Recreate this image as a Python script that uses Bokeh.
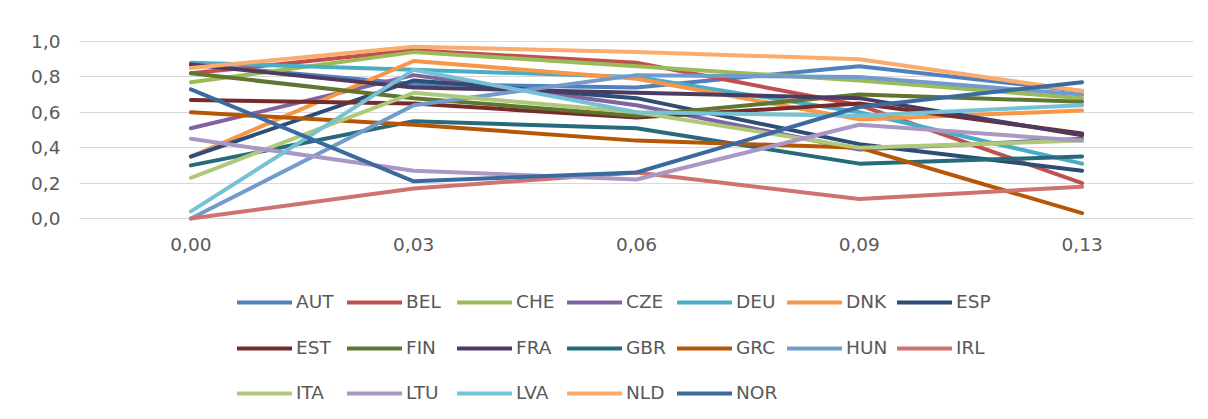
from bokeh.plotting import figure
from bokeh.models import (FactorRange, Range1d, Legend, LegendItem, FixedTicker,
                          CustomJSTickFormatter)
from bokeh.embed import file_html
from bokeh.resources import INLINE

cats = ["0,00", "0,03", "0,06", "0,09", "0,13"]
y_ticks = [0.0, 0.2, 0.4, 0.6, 0.8, 1.0]

countries = ["AUT", "BEL", "CHE", "CZE", "DEU", "DNK", "ESP",
             "EST", "FIN", "FRA", "GBR", "GRC", "HUN", "IRL",
             "ITA", "LTU", "LVA", "NLD", "NOR"]

AUT = [0.87, 0.76, 0.74, 0.86, 0.72]
BEL = [0.82, 0.95, 0.88, 0.64, 0.20]
CHE = [0.77, 0.94, 0.86, 0.78, 0.68]
CZE = [0.51, 0.81, 0.64, 0.39, 0.45]
DEU = [0.88, 0.84, 0.80, 0.60, 0.31]
DNK = [0.35, 0.89, 0.79, 0.56, 0.61]
ESP = [0.35, 0.78, 0.68, 0.42, 0.27]
EST = [0.67, 0.65, 0.57, 0.65, 0.48]
FIN = [0.82, 0.68, 0.58, 0.70, 0.66]
FRA = [0.87, 0.74, 0.71, 0.68, 0.47]
GBR = [0.30, 0.55, 0.51, 0.31, 0.35]
GRC = [0.60, 0.53, 0.44, 0.40, 0.03]
HUN = [0.00, 0.64, 0.81, 0.80, 0.70]
IRL = [0.00, 0.17, 0.26, 0.11, 0.18]
ITA = [0.23, 0.71, 0.60, 0.40, 0.44]
LTU = [0.45, 0.27, 0.22, 0.53, 0.44]
LVA = [0.04, 0.84, 0.60, 0.58, 0.64]
NLD = [0.85, 0.97, 0.94, 0.90, 0.72]
NOR = [0.73, 0.21, 0.26, 0.63, 0.77]

series = [AUT, BEL, CHE, CZE, DEU, DNK, ESP, EST, FIN, FRA, GBR, GRC,
          HUN, IRL, ITA, LTU, LVA, NLD, NOR]

colors = ["#4F81BD", "#C0504D", "#9BBB59", "#8064A2", "#4BACC6", "#F79646",
          "#2C4D75", "#772C2A", "#5F7530", "#4D3B62", "#276A7C", "#B65708",
          "#729ACA", "#CD7371", "#AFC97A", "#A997C4", "#76C1D4", "#F9AC6E",
          "#3B6AA0"]

FONT = "DejaVu Sans"
TXT = "#595959"
FS = "18.5px"

# frame: value 1.0 at y=41px, 0.0 at y=218px; frame extends down to hold legend
PX_PER_UNIT = 177.0
y_end = 1.0 + 3 / PX_PER_UNIT
y_start = 1.0 - (415 - 41) / PX_PER_UNIT

p = figure(x_range=FactorRange(*cats, range_padding=0),
           y_range=Range1d(y_start, y_end),
           frame_width=1114, frame_height=377,
           min_border_left=79, min_border_right=15,
           min_border_top=38, min_border_bottom=4,
           output_backend="svg", toolbar_location=None)

p.outline_line_color = None
p.background_fill_color = "white"
p.border_fill_color = "white"

p.xgrid.grid_line_color = None
p.ygrid.ticker = FixedTicker(ticks=y_ticks)
p.ygrid.grid_line_color = "#D9D9D9"
p.ygrid.grid_line_width = 1

p.yaxis.ticker = FixedTicker(ticks=y_ticks)
p.yaxis.formatter = CustomJSTickFormatter(code="return tick.toFixed(1).replace('.', ',');")
p.xaxis.fixed_location = 0
for ax in (p.xaxis[0], p.yaxis[0]):
    ax.axis_line_color = None
    ax.major_tick_line_color = None
    ax.minor_tick_line_color = None
    ax.major_tick_out = 0
    ax.major_tick_in = 0
    ax.major_label_text_font = FONT
    ax.major_label_text_font_size = FS
    ax.major_label_text_color = TXT
p.yaxis.major_label_standoff = 19
p.xaxis.major_label_standoff = 19

items = []
for name, ys, col in zip(countries, series, colors):
    r = p.line(x=cats, y=ys, line_color=col, line_width=4,
               line_join="round", line_cap="round")
    items.append(LegendItem(label=name, renderers=[r]))

rows = [items[0:7], items[7:14], items[14:19]]
offsets = [103, 57, 12]
for row, off in zip(rows, offsets):
    lg = Legend(items=row, orientation="horizontal",
                location=(158, off),
                glyph_width=55, glyph_height=20, label_height=20,
                label_width=43, label_standoff=4, spacing=8,
                padding=0, margin=0,
                border_line_color=None, background_fill_alpha=0,
                label_text_font=FONT, label_text_font_size=FS,
                label_text_color=TXT)
    p.add_layout(lg)

open("out.html", "w").write(file_html(p, INLINE))
